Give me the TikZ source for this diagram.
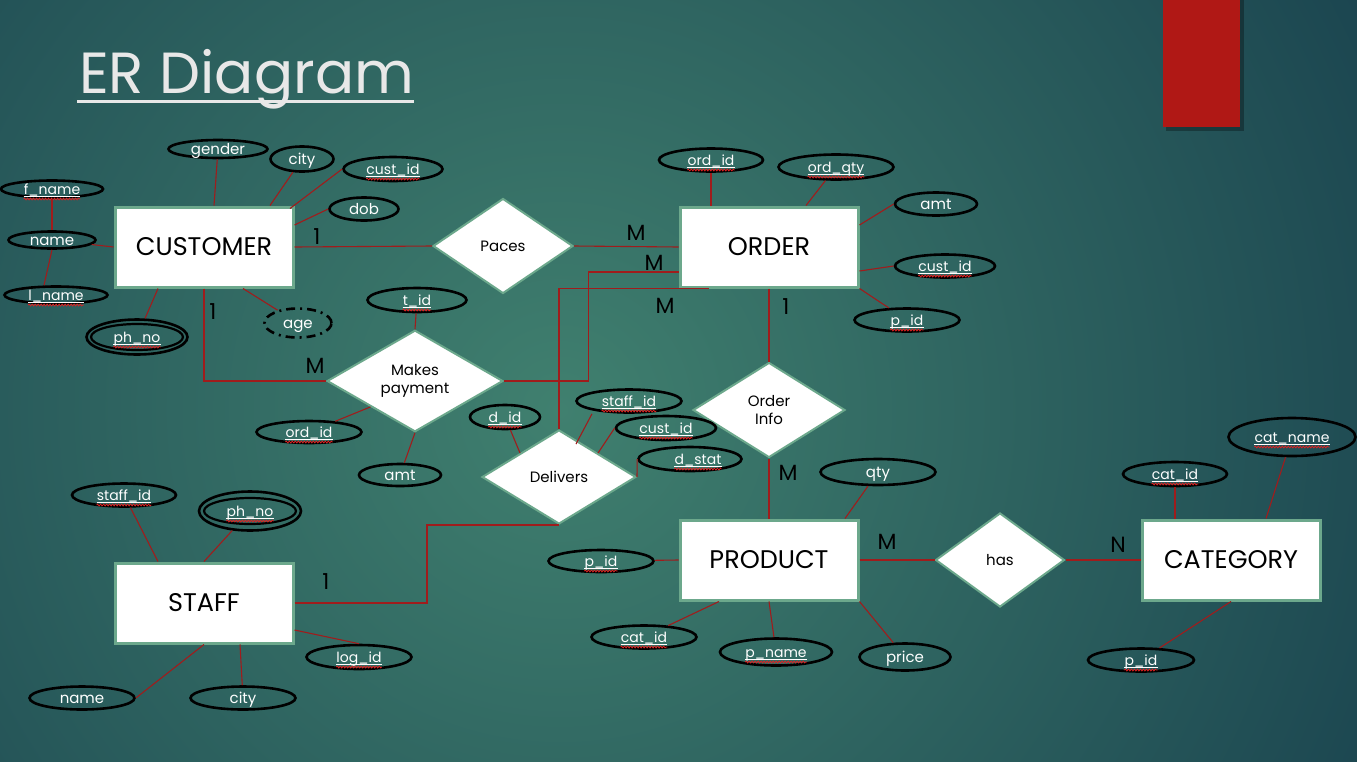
\documentclass[tikz,border=0pt]{standalone}
\usepackage{fontspec}
\setmainfont{Poppins}
\usetikzlibrary{shapes.geometric,decorations.pathmorphing}

\definecolor{bgdark}{HTML}{143A4A}
\definecolor{bglight}{HTML}{40806F}
\definecolor{linkred}{HTML}{A01C1C}
\definecolor{boxedge}{HTML}{6CA88C}
\definecolor{titlegray}{HTML}{E8E8E8}
\definecolor{tabred}{HTML}{B01815}
\definecolor{spellred}{HTML}{E02020}

\begin{document}
\begin{tikzpicture}[x=1pt,y=-1pt]
    \tikzstyle{entity}=[rectangle, draw=boxedge, line width=3pt, fill=white, minimum width=178pt, minimum height=80pt, text=black, font=\fontsize{25.5}{30}\selectfont]
    \tikzstyle{relation}=[diamond, draw=boxedge, line width=2pt, fill=white, inner sep=0pt, text=black, align=center, font=\fontsize{15}{18}\selectfont]
    \tikzstyle{attr}=[ellipse, draw=black, line width=2.6pt, inner sep=0pt, text=white, text height=11pt, text depth=0pt, font=\fontsize{15}{18}\selectfont]
    \tikzstyle{multi}=[attr, path picture={\draw[black, line width=2.2pt] (path picture bounding box.center) ellipse (46 and 13);}]
    \tikzstyle{derived}=[attr, dash pattern=on 9pt off 5pt on 2pt off 5pt]
    \tikzstyle{spell}=[draw=spellred, line width=0.8pt, decorate, decoration={snake, amplitude=0.9pt, segment length=3pt}]
    \tikzstyle{keytxt}=[text=white, inner sep=0pt, text height=11pt, text depth=0pt, font=\fontsize{14}{17}\selectfont,
        append after command={([yshift=-2pt]\tikzlastnode.base west) edge[draw=white, line width=1.2pt] ([yshift=-2pt]\tikzlastnode.base east)
        ([yshift=-4.5pt]\tikzlastnode.base west) edge[spell] ([yshift=-4.5pt]\tikzlastnode.base east)}]
    \tikzstyle{link}=[draw=linkred, line width=1.1pt]
    \tikzstyle{card}=[inner sep=0pt, text=black, font=\fontsize{22}{24}\selectfont]

    % background, tab and title
    \useasboundingbox (0,0) rectangle (1357,761);
    \begin{scope}
        \clip (0,0) rectangle (1357,761);
        \shade[inner color=bglight, outer color=bgdark] (560,410) circle (1080);
    \end{scope}
    \fill[black, opacity=0.3] (1166,0) rectangle (1244,131);
    \fill[tabred] (1163,0) rectangle (1240,127);
    \node[anchor=base west, inner sep=0pt, text=titlegray, font=\fontsize{58}{64}\selectfont] (title) at (79,93) {ER Diagram};
    \draw[titlegray, line width=3pt] ([xshift=-2pt,yshift=-8pt]title.base west) -- ([yshift=-8pt]title.base east);

    % entities
    \node[entity] (cust) at (204,247) {CUSTOMER};
    \node[entity] (order) at (769,247) {ORDER};
    \node[entity] (prod) at (769,560) {PRODUCT};
    \node[entity] (cat) at (1231,560) {CATEGORY};
    \node[entity] (staff) at (204,603) {STAFF};

    % relationships
    \node[relation, minimum width=140pt, minimum height=95pt] (paces) at (503,246) {Paces};
    \node[relation, minimum width=176pt, minimum height=94pt] (pay) at (415,381) {Makes\\payment};
    \node[relation, minimum width=152pt, minimum height=95pt] (oinfo) at (769,410) {Order\\Info};
    \node[relation, minimum width=154pt, minimum height=94pt] (dlv) at (559,477) {Delivers};
    \node[relation, minimum width=129pt, minimum height=94pt] (has) at (1000,560) {has};

    % customer attributes
    \node[attr, minimum width=99pt, minimum height=18pt] (c_gender) at (218,149) {gender};
    \node[attr, minimum width=63pt, minimum height=25pt] (c_city) at (302,159) {city};
    \node[attr, minimum width=99pt, minimum height=24pt] (c_cid) at (393,169) {};
    \node[keytxt] (c_cid_t) at (c_cid) {cust\_id};
    \node[attr, minimum width=69pt, minimum height=23pt] (c_dob) at (364,209) {dob};
    \node[attr, minimum width=102pt, minimum height=17pt] (c_fname) at (52,189) {};
    \node[keytxt] (c_fname_t) at (c_fname) {f\_name};
    \node[attr, minimum width=87pt, minimum height=17pt] (c_name) at (52,240) {name};
    \node[attr, minimum width=103pt, minimum height=17pt] (c_lname) at (56,295) {};
    \node[keytxt] (c_lname_t) at (c_lname) {l\_name};
    \node[multi, minimum width=101pt, minimum height=35pt] (c_phno) at (137,337) {};
    \node[keytxt] (c_phno_t) at (c_phno) {ph\_no};
    \node[derived, minimum width=67pt, minimum height=29pt] (c_age) at (298,323) {age};

    % makes payment attributes
    \node[attr, minimum width=99pt, minimum height=24pt] (p_tid) at (417,300) {};
    \node[keytxt] (p_tid_t) at (p_tid) {t\_id};
    \node[attr, minimum width=105pt, minimum height=22pt] (p_oid) at (309,432) {};
    \node[keytxt] (p_oid_t) at (p_oid) {ord\_id};
    \node[attr, minimum width=82pt, minimum height=22pt] (p_amt) at (400,475) {amt};

    % delivers attributes
    \node[attr, minimum width=70pt, minimum height=24pt] (d_did) at (505,417) {};
    \node[keytxt] (d_did_t) at (d_did) {d\_id};
    \node[attr, minimum width=105pt, minimum height=23pt] (d_sid) at (629,401) {};
    \node[keytxt] (d_sid_t) at (d_sid) {staff\_id};
    \node[attr, minimum width=100pt, minimum height=24pt] (d_cid) at (666,428) {};
    \node[keytxt] (d_cid_t) at (d_cid) {cust\_id};
    \node[attr, minimum width=103pt, minimum height=24pt] (d_dst) at (690,459) {};
    \node[keytxt] (d_dst_t) at ([xshift=8pt]d_dst.center) {d\_stat};

    % order attributes
    \node[attr, minimum width=104pt, minimum height=23pt] (o_oid) at (711,160) {};
    \node[keytxt] (o_oid_t) at (o_oid) {ord\_id};
    \node[attr, minimum width=115pt, minimum height=25pt] (o_qty) at (836,167) {};
    \node[keytxt] (o_qty_t) at (o_qty) {ord\_qty};
    \node[attr, minimum width=82pt, minimum height=23pt] (o_amt) at (936,204) {amt};
    \node[attr, minimum width=100pt, minimum height=23pt] (o_cid) at (945,266) {};
    \node[keytxt] (o_cid_t) at (o_cid) {cust\_id};
    \node[attr, minimum width=105pt, minimum height=23pt] (o_pid) at (907,320) {};
    \node[keytxt] (o_pid_t) at (o_pid) {p\_id};

    % product attributes
    \node[attr, minimum width=115pt, minimum height=26pt] (r_qty) at (878,472) {qty};
    \node[attr, minimum width=105pt, minimum height=22pt] (r_pid) at (601,561) {};
    \node[keytxt] (r_pid_t) at (r_pid) {p\_id};
    \node[attr, minimum width=105pt, minimum height=23pt] (r_cat) at (644,637) {};
    \node[keytxt] (r_cat_t) at (r_cat) {cat\_id};
    \node[attr, minimum width=112pt, minimum height=27pt] (r_pname) at (776,652) {};
    \node[keytxt] (r_pname_t) at (r_pname) {p\_name};
    \node[attr, minimum width=91pt, minimum height=27pt] (r_price) at (905,657) {price};

    % category attributes
    \node[attr, minimum width=104pt, minimum height=24pt] (g_cid) at (1175,474) {};
    \node[keytxt] (g_cid_t) at (g_cid) {cat\_id};
    \node[attr, minimum width=127pt, minimum height=38pt] (g_cname) at (1292,437) {};
    \node[keytxt] (g_cname_t) at (g_cname) {cat\_name};
    \node[attr, minimum width=106pt, minimum height=23pt] (g_pid) at (1141,660) {};
    \node[keytxt] (g_pid_t) at (g_pid) {p\_id};

    % staff attributes
    \node[attr, minimum width=104pt, minimum height=23pt] (s_sid) at (124,495) {};
    \node[keytxt] (s_sid_t) at (s_sid) {staff\_id};
    \node[multi, minimum width=102pt, minimum height=39pt] (s_phno) at (250,511) {};
    \node[keytxt] (s_phno_t) at (s_phno) {ph\_no};
    \node[attr, minimum width=105pt, minimum height=24pt] (s_lid) at (359,657) {};
    \node[keytxt] (s_lid_t) at (s_lid) {log\_id};
    \node[attr, minimum width=105pt, minimum height=23pt] (s_name) at (82,698) {name};
    \node[attr, minimum width=105pt, minimum height=23pt] (s_city) at (243,698) {city};

    % relationship links
    \draw[link] (cust.east) -- (paces.west);
    \draw[link] (paces.east) -- (order.west);
    \draw[link] (pay.east) -| ([xshift=-90pt,yshift=-25pt]order.west) -- ([yshift=-25pt]order.west);
    \draw[link] (dlv.north) |- ([xshift=30pt]order.south west);
    \draw[link] (cust.south) |- (pay.west);
    \draw[link] (order.south) -- (oinfo.north);
    \draw[link] (oinfo.south) -- (prod.north);
    \draw[link] (prod.east) -- (has.west);
    \draw[link] (has.east) -- (cat.west);
    \draw[link] (staff.east) -| ([xshift=-132pt]dlv.south) -- (dlv.south);

    % attribute links
    \draw[link] (c_gender) -- ([xshift=10pt]cust.north);
    \draw[link] (c_city) -- ([xshift=66pt]cust.north);
    \draw[link] (c_cid.west) -- ([xshift=86pt,yshift=-3pt]cust.north);
    \draw[link] (c_dob.west) -- ([yshift=22pt]cust.east);
    \draw[link] (c_fname) -- (c_name);
    \draw[link] (c_name.south) -- ([xshift=-12pt]c_lname.north);
    \draw[link] (c_name) -- (cust.west);
    \draw[link] (c_phno) -- ([xshift=-46pt]cust.south);
    \draw[link] (c_age) -- ([xshift=39pt]cust.south);
    \draw[link] (p_tid) -- (pay.north);
    \draw[link] (p_oid) -- (pay.south west);
    \draw[link] (p_amt) -- (pay.south);
    \draw[link] (d_did) -- (dlv.north west);
    \draw[link] ([xshift=-37pt]d_sid.south) -- ([xshift=17pt,yshift=-15pt]dlv.north);
    \draw[link] (d_cid.west) -- ([xshift=39pt,yshift=-24pt]dlv.north);
    \draw[link] (d_dst.west) -- (dlv.east);
    \draw[link] (o_oid) -- (o_oid |- order.north);
    \draw[link] (o_qty) -- ([xshift=37pt]order.north);
    \draw[link] (o_amt.west) -- ([yshift=22pt]order.east);
    \draw[link] (o_cid.west) -- ([yshift=-24pt]order.east);
    \draw[link] (o_pid) -- (order.south east);
    \draw[link] (r_qty) -- ([xshift=76pt]prod.north);
    \draw[link] (r_pid) -- (prod.west);
    \draw[link] (r_cat) -- ([xshift=-50pt]prod.south);
    \draw[link] (r_pname) -- (prod.south);
    \draw[link] (r_price) -- (prod.south east);
    \draw[link] (g_cid) -- (g_cid |- cat.north);
    \draw[link] (g_cname) -- ([xshift=35pt]cat.north);
    \draw[link] (g_pid) -- (cat.south);
    \draw[link] (s_sid) -- ([xshift=-46pt]staff.north);
    \draw[link] (s_phno) -- (staff.north);
    \draw[link] (s_lid.north) -- ([yshift=-27pt]staff.east);
    \draw[link] (s_name.east) -- (staff.south);
    \draw[link] (s_city) -- ([xshift=36pt]staff.south);

    % cardinalities
    \node[card] (k_cp) at (317,237) {1};
    \node[card] (k_op) at (636,233) {M};
    \node[card] (k_om) at (654,263) {M};
    \node[card] (k_od) at (665,306) {M};
    \node[card] (k_cm) at (213,312) {1};
    \node[card] (k_pm) at (315,366) {M};
    \node[card] (k_oi) at (786,307) {1};
    \node[card] (k_pi) at (788,473) {M};
    \node[card] (k_ph) at (887,542) {M};
    \node[card] (k_ch) at (1118,545) {N};
    \node[card] (k_sd) at (326,582) {1};
\end{tikzpicture}
\end{document}
